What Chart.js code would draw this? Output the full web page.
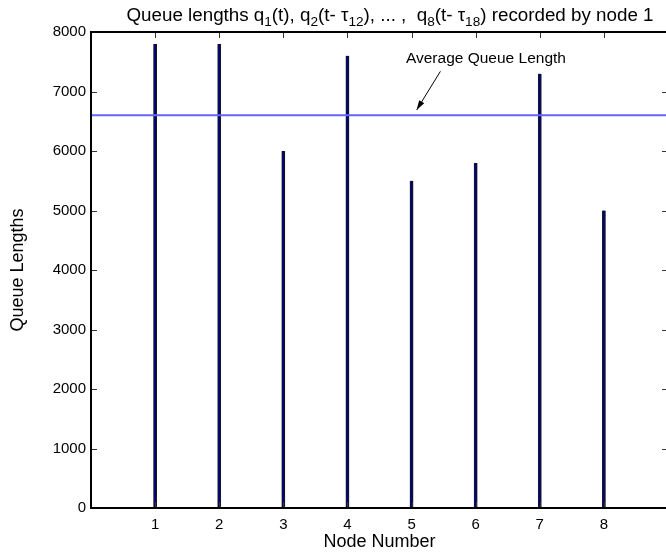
<!DOCTYPE html>
<html>
<head>
<meta charset="utf-8">
<script src="https://cdn.jsdelivr.net/npm/chart.js@4/dist/chart.umd.min.js"></script>
<style>
  html, body { margin: 0; padding: 0; background: #fff; overflow: hidden; }
  #wrap { width: 672px; height: 553px; }
</style>
</head>
<body>
<div id="wrap"><canvas id="queueChart" width="672" height="553"></canvas></div>
<script>
// data
const nodes = [1, 2, 3, 4, 5, 6, 7, 8];
const queueLengths = [7800, 7800, 6000, 7600, 5500, 5800, 7300, 5000];
const yTicks = [0, 1000, 2000, 3000, 4000, 5000, 6000, 7000, 8000];
const xRange = [0, 9];

const avgQueue = queueLengths.reduce((a, b) => a + b, 0) / queueLengths.length;

const FONT = 'Liberation Sans, Arial, Helvetica, sans-serif';

// title with subscripts
const titleParts = [
    ['Queue lengths q', false], ['1', true], ['(t), q', false], ['2', true],
    ['(t- \u03c4', false], ['12', true], ['), ... ,  q', false], ['8', true],
    ['(t- \u03c4', false], ['18', true], [') recorded by node 1', false]
];

const matlabAxes = {
    id: 'matlabAxes',
    afterDatasetsDraw(chart) {
        const { ctx, chartArea: a, scales: { x, y } } = chart;
        ctx.save();
        // inward ticks
        ctx.strokeStyle = '#333';
        ctx.lineWidth = 1;
        ctx.beginPath();
        nodes.forEach(v => {
            const px = Math.round(x.getPixelForValue(v)) + 0.5;
            ctx.moveTo(px, a.top); ctx.lineTo(px, a.top + 6);
            ctx.moveTo(px, a.bottom); ctx.lineTo(px, a.bottom - 6);
        });
        yTicks.forEach(v => {
            const py = Math.round(y.getPixelForValue(v)) + 0.5;
            ctx.moveTo(a.left, py); ctx.lineTo(a.left + 6, py);
            ctx.moveTo(a.right, py); ctx.lineTo(a.right - 6, py);
        });
        ctx.stroke();
        // box
        ctx.strokeStyle = '#000';
        ctx.lineWidth = 2;
        ctx.strokeRect(a.left, a.top, a.right - a.left, a.bottom - a.top);

        // annotation + arrow
        ctx.fillStyle = '#000';
        ctx.font = '15.5px ' + FONT;
        ctx.textAlign = 'center';
        ctx.textBaseline = 'middle';
        ctx.fillText('Average Queue Length', x.getPixelForValue(6.16), y.getPixelForValue(7547));
        const x0 = x.getPixelForValue(5.45), y0 = y.getPixelForValue(7339);
        const x1 = x.getPixelForValue(5.08), y1 = y.getPixelForValue(6691);
        ctx.lineWidth = 1;
        ctx.beginPath();
        ctx.moveTo(x0, y0); ctx.lineTo(x1, y1);
        ctx.stroke();
        const ang = Math.atan2(y1 - y0, x1 - x0);
        ctx.beginPath();
        ctx.moveTo(x1, y1);
        ctx.lineTo(x1 - 10 * Math.cos(ang - 0.3), y1 - 10 * Math.sin(ang - 0.3));
        ctx.lineTo(x1 - 10 * Math.cos(ang + 0.3), y1 - 10 * Math.sin(ang + 0.3));
        ctx.closePath();
        ctx.fill();

        // title
        ctx.textAlign = 'left';
        ctx.textBaseline = 'alphabetic';
        let total = 0;
        titleParts.forEach(([t, sub]) => {
            ctx.font = (sub ? '13.6px ' : '18.8px ') + FONT;
            total += ctx.measureText(t).width;
        });
        let cx = 390 - total / 2;
        titleParts.forEach(([t, sub]) => {
            ctx.font = (sub ? '13.6px ' : '18.8px ') + FONT;
            ctx.fillText(t, cx, sub ? 26 : 21);
            cx += ctx.measureText(t).width;
        });
        ctx.restore();
    }
};

const ctx = document.getElementById('queueChart').getContext('2d');
new Chart(ctx, {
    type: 'bar',
    data: {
        datasets: [{
            type: 'line',
            data: [{ x: xRange[0], y: avgQueue }, { x: xRange[1], y: avgQueue }],
            borderColor: '#6464ff',
            borderWidth: 2,
            pointRadius: 0,
            fill: false
        }, {
            data: nodes.map((n, i) => ({ x: n, y: queueLengths[i] })),
            backgroundColor: '#00007a',
            borderColor: '#1a1a1a',
            borderWidth: { left: 1, right: 1, top: 0, bottom: 0 },
            borderSkipped: false,
            barThickness: 3.2
        }]
    },
    options: {
        responsive: false,
        animation: false,
        layout: { padding: { top: 32, right: 4, left: 0, bottom: 0 } },
        plugins: {
            legend: { display: false },
            tooltip: { enabled: false }
        },
        scales: {
            x: {
                type: 'linear',
                min: xRange[0],
                max: xRange[1],
                offset: false,
                grid: { display: false, offset: false, drawTicks: false },
                border: { display: false },
                afterBuildTicks: s => { s.ticks = nodes.map(v => ({ value: v })); },
                afterFit: s => { s.height = 45; },
                ticks: { color: '#000', font: { family: FONT, size: 15 }, padding: 8, maxRotation: 0,
                         callback: v => String(v) },
                title: { display: true, text: 'Node Number', color: '#000', font: { family: FONT, size: 18 }, padding: { top: 0, bottom: 0 } }
            },
            y: {
                min: 0,
                max: 8000,
                grid: { display: false, drawTicks: false },
                border: { display: false },
                afterBuildTicks: s => { s.ticks = yTicks.map(v => ({ value: v })); },
                afterFit: s => { s.width = 91; },
                ticks: { color: '#000', font: { family: FONT, size: 15 }, padding: 5,
                         callback: v => String(v) },
                title: { display: true, text: 'Queue Lengths', color: '#000', font: { family: FONT, size: 18 }, padding: { top: 7, bottom: 0 } }
            }
        }
    },
    plugins: [matlabAxes]
});
</script>
</body>
</html>
